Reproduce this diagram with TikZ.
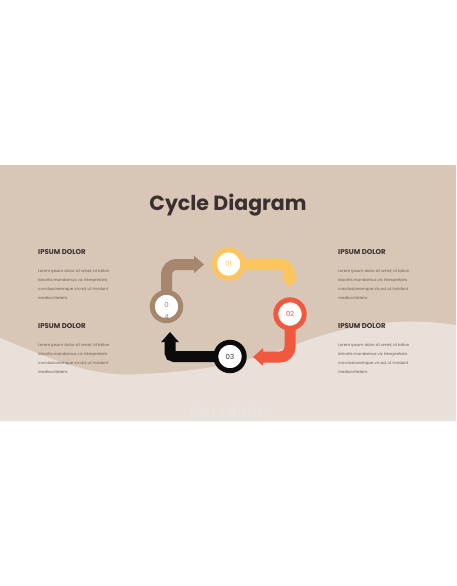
\documentclass[tikz,border=0pt]{standalone}
\usepackage{fontspec}
\setmainfont{Poppins}
\newfontfamily\wmfont{Liberation Sans}
\usetikzlibrary{arrows.meta}
\pgfdeclarelayer{back}
\pgfdeclarelayer{mid}
\pgfsetlayers{back,mid,main}
\definecolor{bgdark}{HTML}{D8C7B7}
\definecolor{bglight}{HTML}{E8E0D9}
\definecolor{ctitle}{HTML}{3B2F2F}
\definecolor{ctext}{HTML}{6A5D55}
\definecolor{cbrown}{HTML}{A6866C}
\definecolor{cyellow}{HTML}{FCC45C}
\definecolor{cred}{HTML}{F2583E}
\definecolor{cblack}{HTML}{0B0B0B}
\definecolor{cwater}{HTML}{EBE4DE}
\begin{document}
\begin{tikzpicture}[x=1pt,y=-1pt,
  ring/.style={circle,draw=#1,line width=5pt,fill=white,minimum size=28.4pt,inner sep=0pt,font=\fontsize{7}{8}\selectfont,text=#1},
  flow/.style={draw=#1,line width=11pt,-{Triangle[width=17pt,length=10pt]}},
  head/.style={anchor=west,inner sep=0pt,font=\fontsize{7}{8}\selectfont\bfseries,text=ctitle},
  body/.style={anchor=north west,inner sep=0pt,align=left,font=\fontsize{3.9}{9}\selectfont,text=ctext}]
\useasboundingbox (0,0) rectangle (456,586);
\begin{pgfonlayer}{back}
\fill[white] (0,0) rectangle (456,586);
\fill[bgdark] (0,165) rectangle (456,421);
\fill[bglight] (0,338) .. controls (50,358) and (90,378) .. (140,374) .. controls (200,372) and (250,362) .. (300,343) .. controls (345,326) and (395,316) .. (456,325) -- (456,421) -- (0,421) -- cycle;
\end{pgfonlayer}
\node[font=\fontsize{20.5}{24}\selectfont\bfseries,text=ctitle] (title) at (228,205) {Cycle Diagram};
\node[head] (h1) at (38,252) {IPSUM DOLOR};
\node[body] (b1) at (38,269.5) {Lorem ipsum dolor sit amet, id tation\\lobortis mandamus vix interpretaris\\conclusionemque vis ad, ut invidunt\\mediocritatem.};
\node[head] (h2) at (38,326) {IPSUM DOLOR};
\node[body] (b2) at (38,343.5) {Lorem ipsum dolor sit amet, id tation\\lobortis mandamus vix interpretaris\\conclusionemque vis ad, ut invidunt\\mediocritatem.};
\node[head] (h3) at (338,252) {IPSUM DOLOR};
\node[body] (b3) at (338,269.5) {Lorem ipsum dolor sit amet, id tation\\lobortis mandamus vix interpretaris\\conclusionemque vis ad, ut invidunt\\mediocritatem.};
\node[head] (h4) at (338,326) {IPSUM DOLOR};
\node[body] (b4) at (338,343.5) {Lorem ipsum dolor sit amet, id tation\\lobortis mandamus vix interpretaris\\conclusionemque vis ad, ut invidunt\\mediocritatem.};
\node[font=\wmfont\bfseries\fontsize{13.5}{14}\selectfont,text=cwater] (wm) at (228,413) {GILLLSHOP};
\node[ring=cyellow] (c1) at (228.5,264) {01};
\node[ring=cred] (c2) at (290,314) {02};
\node[ring=cblack,text=ctitle] (c3) at (230,356.5) {03};
\node[ring=cbrown] (c4) at (166.5,306.5) {};
\coordinate (t1) at (204,264.5);
\coordinate (t2) at (289.5,287);
\coordinate (t3) at (253,357);
\coordinate (t4) at (170,332);
\begin{pgfonlayer}{mid}
\draw[flow=cbrown,rounded corners=10pt] (c4.center) |- (t1);
\draw[flow=cyellow,rounded corners=10pt] (c1.center) -| (t2);
\draw[flow=cred,rounded corners=10pt] (c2.center) |- (t3);
\draw[flow=cblack,rounded corners=4pt] (c3.center) -| (t4);
\end{pgfonlayer}
\begin{scope}
\clip (c4.center) circle (11.7pt);
\node[font=\fontsize{7}{12}\selectfont,text=cbrown,align=center] (n4) at (166.5,311) {0\\4};
\end{scope}
\end{tikzpicture}
\end{document}
